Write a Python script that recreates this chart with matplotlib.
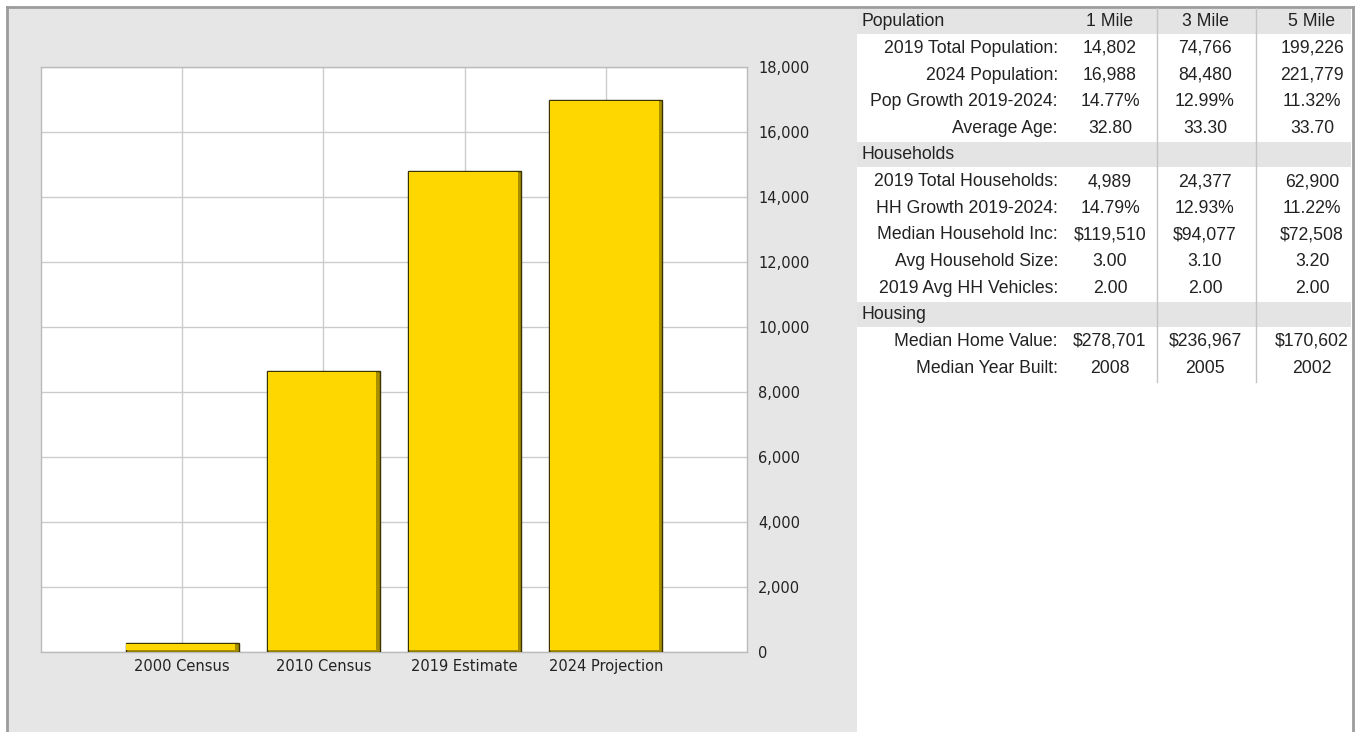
import matplotlib
matplotlib.use('Agg')
from matplotlib import pyplot as plt
from matplotlib.patches import Rectangle
from matplotlib.lines import Line2D
from matplotlib.ticker import FuncFormatter

# chart data
categories = ['2000 Census', '2010 Census', '2019 Estimate', '2024 Projection']
population = [270, 8650, 14802, 16988]
y_ticks = [0, 2000, 4000, 6000, 8000, 10000, 12000, 14000, 16000, 18000]

# table data
col_headers = ['1 Mile', '3 Mile', '5 Mile']
sections = ['Population', 'Households', 'Housing']
pop_labels = ['2019 Total Population:', '2024 Population:', 'Pop Growth 2019-2024:', 'Average Age:']
pop_1 = ['14,802', '16,988', '14.77%', '32.80']
pop_3 = ['74,766', '84,480', '12.99%', '33.30']
pop_5 = ['199,226', '221,779', '11.32%', '33.70']
hh_labels = ['2019 Total Households:', 'HH Growth 2019-2024:', 'Median Household Inc:',
             'Avg Household Size:', '2019 Avg HH Vehicles:']
hh_1 = ['4,989', '14.79%', '$119,510', '3.00', '2.00']
hh_3 = ['24,377', '12.93%', '$94,077', '3.10', '2.00']
hh_5 = ['62,900', '11.22%', '$72,508', '3.20', '2.00']
house_labels = ['Median Home Value:', 'Median Year Built:']
house_1 = ['$278,701', '2008']
house_3 = ['$236,967', '2005']
house_5 = ['$170,602', '2002']

W, H = 1359, 732
fig = plt.figure(figsize=(W / 100, H / 100), dpi=100)
fig.patch.set_facecolor('white')


def fx(x):
    return x / W


def fy(y):
    return 1 - y / H


# gray chart panel
fig.add_artist(Rectangle((fx(7), 0), fx(857) - fx(7), fy(7), transform=fig.transFigure,
                         facecolor='#e6e6e6', edgecolor='none', zorder=0))
border = '#9c9c9c'
fig.add_artist(Line2D([fx(7), fx(7)], [0, fy(7)], transform=fig.transFigure, color=border, lw=2))
fig.add_artist(Line2D([fx(7), fx(1353)], [fy(7), fy(7)], transform=fig.transFigure, color=border, lw=2))
fig.add_artist(Line2D([fx(1353), fx(1353)], [0, fy(7)], transform=fig.transFigure, color=border, lw=2))

# bar chart
ax = fig.add_axes([fx(41), fy(652), fx(747) - fx(41), fy(67) - fy(652)])
ax.set_facecolor('white')
x = list(range(1, len(categories) + 1))
ax.bar(x, population, width=0.8, color='#a88f00', edgecolor='#3a3300', linewidth=1, zorder=3)
inner = [v - 100 for v in population]
ax.bar([i - 0.01 for i in x], inner, bottom=70, width=0.77, color='#ffd700',
       edgecolor='none', zorder=4)
ax.set_xlim(0, 5)
ax.set_ylim(0, 18000)
ax.set_xticks(x)
ax.set_xticklabels(categories, fontsize=10.5, color='#222222', family='DejaVu Sans')
ax.set_yticks(y_ticks)
ax.yaxis.set_major_formatter(FuncFormatter(lambda v, p: f'{int(v):,}'))
ax.yaxis.tick_right()
ax.tick_params(axis='y', length=0, pad=8, labelsize=10.5, labelcolor='#222222')
ax.tick_params(axis='x', length=0, pad=5)
for lbl in ax.get_yticklabels():
    lbl.set_family('DejaVu Sans')
ax.grid(True, color='#cccccc', linewidth=1, zorder=0)
for s in ax.spines.values():
    s.set_color('#bbbbbb')
    s.set_linewidth(1)

# table
tfont = dict(family='Liberation Sans', fontsize=12.7, color='#222222')
row_h = 26.65
y0 = 21.7
cx = [1110, 1205, 1312]

rows = []
rows.append((sections[0], col_headers, True))
for i in range(len(pop_labels)):
    rows.append((pop_labels[i], [pop_1[i], pop_3[i], pop_5[i]], False))
rows.append((sections[1], ['', '', ''], True))
for i in range(len(hh_labels)):
    rows.append((hh_labels[i], [hh_1[i], hh_3[i], hh_5[i]], False))
rows.append((sections[2], ['', '', ''], True))
for i in range(len(house_labels)):
    rows.append((house_labels[i], [house_1[i], house_3[i], house_5[i]], False))

for r, (label, vals, header) in enumerate(rows):
    yc = y0 + r * row_h
    if header:
        fig.add_artist(Rectangle((fx(857), fy(yc + 12.5)), fx(1351) - fx(857), fy(yc - 12.5) - fy(yc + 12.5),
                                 transform=fig.transFigure, facecolor='#e4e4e4', edgecolor='none', zorder=1))
        fig.text(fx(862), fy(yc), label, ha='left', va='center', zorder=3, **tfont)
    else:
        fig.text(fx(1058), fy(yc), label, ha='right', va='center', zorder=3, **tfont)
    for c, v in zip(cx, vals):
        fig.text(fx(c), fy(yc), v, ha='center', va='center', zorder=3, **tfont)

line_bottom = y0 + (len(rows) - 1) * row_h + 14
for xs in [1157, 1256]:
    fig.add_artist(Line2D([fx(xs), fx(xs)], [fy(8), fy(line_bottom)], transform=fig.transFigure,
                          color='#c4c4c4', lw=1, zorder=2))

plt.savefig('out.png', dpi=100)
plt.close()
